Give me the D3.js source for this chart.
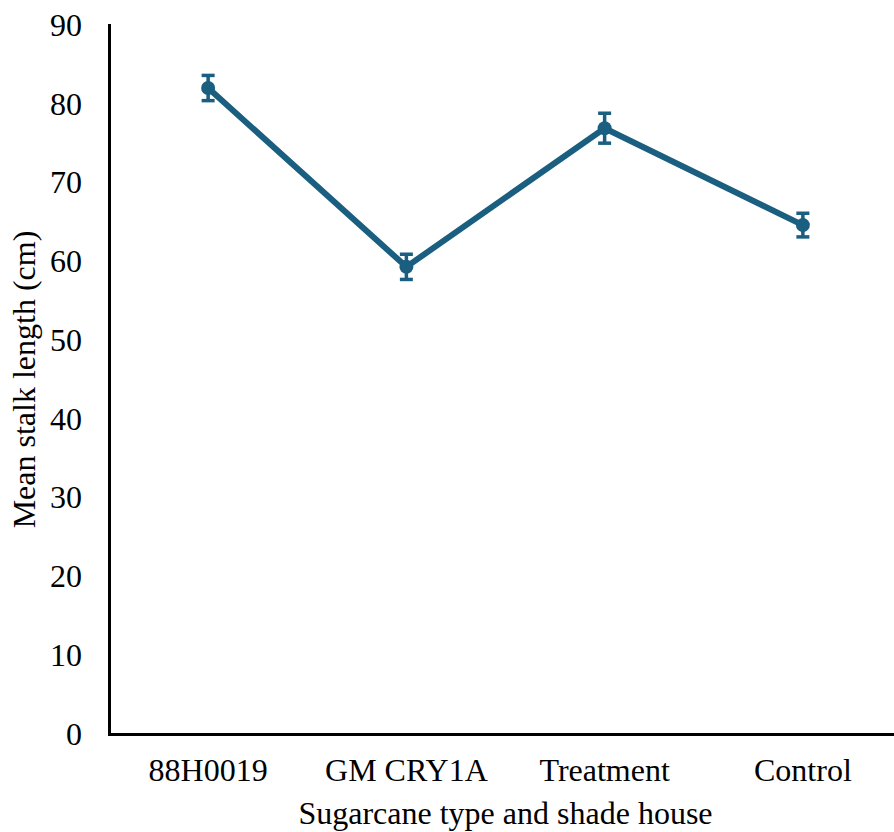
<!DOCTYPE html>
<html lang="en">
<head>
<meta charset="utf-8">
<title>Mean stalk length</title>
<script src="https://cdn.jsdelivr.net/npm/d3@7"></script>
<style>
  html, body { margin: 0; padding: 0; background: #fff; }
  svg { display: block; }
  .axis path { stroke: #000; stroke-width: 3px; }
</style>
</head>
<body>
<script>
// data
let categories = ["88H0019", "GM CRY1A", "Treatment", "Control"];
let means = [82.0, 59.3, 76.9, 64.6];
let errors = [1.6, 1.6, 1.9, 1.5];
let yTicks = [0, 10, 20, 30, 40, 50, 60, 70, 80, 90];

let w = 894, h = 832;
let padLeft = 109, padRight = 902, padTop = 25, padBottom = 734;
let colour = "#1a5e80";
let serif = "Liberation Serif";

let svg = d3.select("body").append("svg")
  .attr("width", w)
  .attr("height", h);

let x = d3.scaleBand().domain(categories).range([padLeft, padRight]);
let y = d3.scaleLinear().domain([0, 90]).range([padBottom, padTop]);
let cx = d => x(d) + x.bandwidth() / 2;

let points = categories.map((c, i) => ({ cat: c, mean: means[i], err: errors[i] }));

let styleText = sel => sel
  .attr("font-family", serif)
  .style("font-family", serif)
  .style("font-size", "32px")
  .attr("fill", "#000");

// axes
svg.append("g")
  .attr("class", "axis")
  .attr("transform", "translate(0," + padBottom + ")")
  .call(d3.axisBottom(x).tickSize(0).tickPadding(24))
  .call(g => g.select(".domain").attr("stroke-linecap", "square"))
  .call(g => g.selectAll("text").call(styleText));

svg.append("g")
  .attr("class", "axis")
  .attr("transform", "translate(" + padLeft + ",0)")
  .call(d3.axisLeft(y).tickValues(yTicks).tickSize(0).tickPadding(27))
  .call(g => g.select(".domain").attr("stroke-linecap", "square"))
  .call(g => g.selectAll("text").call(styleText));

// line
svg.append("path")
  .datum(points)
  .attr("fill", "none")
  .attr("stroke", colour)
  .attr("stroke-width", 6)
  .attr("stroke-linejoin", "round")
  .attr("d", d3.line().x(d => cx(d.cat)).y(d => y(d.mean)));

// error bars
let eb = svg.append("g").attr("stroke", colour).attr("stroke-width", 3.5);
eb.selectAll(".stem").data(points).enter().append("line")
  .attr("x1", d => cx(d.cat)).attr("x2", d => cx(d.cat))
  .attr("y1", d => y(d.mean + d.err)).attr("y2", d => y(d.mean - d.err));
eb.selectAll(".capTop").data(points).enter().append("line")
  .attr("x1", d => cx(d.cat) - 6.5).attr("x2", d => cx(d.cat) + 6.5)
  .attr("y1", d => y(d.mean + d.err)).attr("y2", d => y(d.mean + d.err));
eb.selectAll(".capBot").data(points).enter().append("line")
  .attr("x1", d => cx(d.cat) - 6.5).attr("x2", d => cx(d.cat) + 6.5)
  .attr("y1", d => y(d.mean - d.err)).attr("y2", d => y(d.mean - d.err));

// markers
svg.selectAll("circle").data(points).enter().append("circle")
  .attr("cx", d => cx(d.cat))
  .attr("cy", d => y(d.mean))
  .attr("r", 7)
  .attr("fill", colour);

// axis titles
svg.append("text")
  .attr("x", (padLeft + padRight) / 2)
  .attr("y", 824)
  .attr("text-anchor", "middle")
  .call(styleText)
  .text("Sugarcane type and shade house");

svg.append("text")
  .attr("transform", "rotate(-90)")
  .attr("x", -(padTop + padBottom) / 2)
  .attr("y", 35)
  .attr("text-anchor", "middle")
  .call(styleText)
  .text("Mean stalk length (cm)");
</script>
</body>
</html>
